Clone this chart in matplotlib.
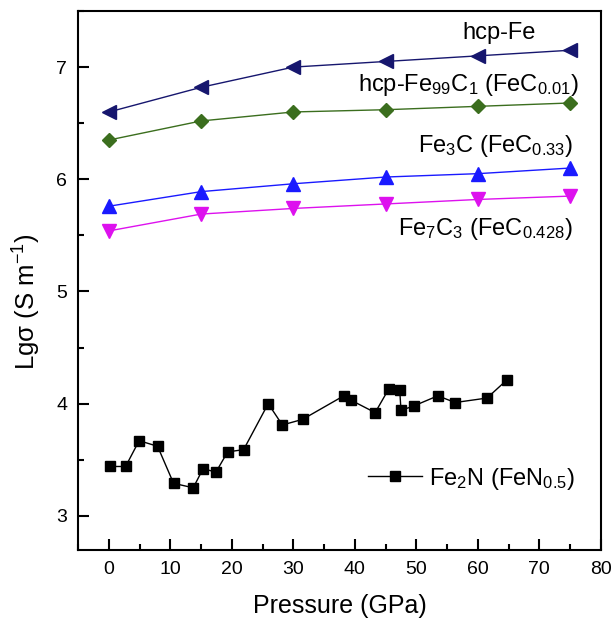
import matplotlib
matplotlib.use("Agg")
import matplotlib.pyplot as plt
from matplotlib.ticker import MultipleLocator

plt.rcParams['font.family'] = ['Liberation Sans', 'DejaVu Sans']
plt.rcParams['mathtext.fontset'] = 'custom'
plt.rcParams['mathtext.rm'] = 'Liberation Sans'
plt.rcParams['mathtext.it'] = 'Liberation Sans'
plt.rcParams['mathtext.default'] = 'regular'

pressure_calc = [0, 15, 30, 45, 60, 75]
hcp_fe = [6.60, 6.82, 7.00, 7.05, 7.10, 7.15]
hcp_fe99c1 = [6.35, 6.52, 6.60, 6.62, 6.65, 6.68]
fe3c = [5.76, 5.89, 5.96, 6.02, 6.05, 6.10]
fe7c3 = [5.54, 5.69, 5.74, 5.78, 5.82, 5.85]

pressure_fe2n = [0.2, 2.7, 4.9, 7.9, 10.5, 13.7, 15.3, 17.4, 19.3, 21.9, 25.9, 28.2,
                 31.5, 38.2, 39.4, 43.3, 45.5, 47.3, 47.5, 49.6, 53.5, 56.3, 61.5, 64.7]
fe2n = [3.44, 3.44, 3.67, 3.62, 3.29, 3.25, 3.42, 3.39, 3.57, 3.59, 4.00, 3.81,
        3.86, 4.07, 4.03, 3.92, 4.13, 4.12, 3.94, 3.98, 4.07, 4.01, 4.05, 4.21]

series_labels = ['hcp-Fe',
                 r'hcp-Fe$_{99}$C$_1$ (FeC$_{0.01}$)',
                 r'Fe$_3$C (FeC$_{0.33}$)',
                 r'Fe$_7$C$_3$ (FeC$_{0.428}$)']
fe2n_label = r'Fe$_2$N (FeN$_{0.5}$)'

fig = plt.figure(figsize=(6.15, 6.28), dpi=100)
ax = fig.add_axes([0.1273, 0.125, 0.8495, 0.8575])

ax.plot(pressure_calc, hcp_fe, '-<', color='#16166e', lw=1.0, ms=9.5, mec='#16166e')
ax.plot(pressure_calc, hcp_fe99c1, '-D', color='#3b6e1e', lw=1.0, ms=7.5, mec='#3b6e1e')
ax.plot(pressure_calc, fe3c, '-^', color='#1a1aff', lw=1.0, ms=10, mec='#1a1aff')
ax.plot(pressure_calc, fe7c3, '-v', color='#dd11ee', lw=1.0, ms=10, mec='#dd11ee')
ax.plot(pressure_fe2n, fe2n, '-s', color='black', lw=1.0, ms=7.5, label=fe2n_label)

fs = 17
label_pos = [(462, 39), (358, 91), (418, 152), (398, 235)]
for (xp, yp), s in zip(label_pos, series_labels):
    fig.text(xp / 615, 1 - yp / 628, s, fontsize=fs, ha='left', va='baseline')

ax.legend(loc='lower right', bbox_to_anchor=(0.97, 0.09), frameon=False,
          fontsize=fs, handlelength=2.3, handletextpad=0.3, borderaxespad=0)

ax.set_xlim(-5, 80)
ax.set_ylim(2.7, 7.5)
ax.xaxis.set_major_locator(MultipleLocator(10))
ax.xaxis.set_minor_locator(MultipleLocator(5))
ax.yaxis.set_major_locator(MultipleLocator(1))
ax.yaxis.set_minor_locator(MultipleLocator(0.5))
ax.tick_params(which='both', direction='in', top=False, right=False, width=1.5)
ax.tick_params(which='major', length=8, labelsize=14, pad=8)
ax.tick_params(which='minor', length=4)
for sp in ax.spines.values():
    sp.set_linewidth(1.5)

ax.set_xlabel('Pressure (GPa)', fontsize=18, labelpad=12)
ax.set_ylabel(r'Lg$\sigma$ (S m$^{-1}$)', fontsize=18.5)
ax.yaxis.set_label_coords(-0.068, 0.46)

fig.savefig('out.png', dpi=100)
